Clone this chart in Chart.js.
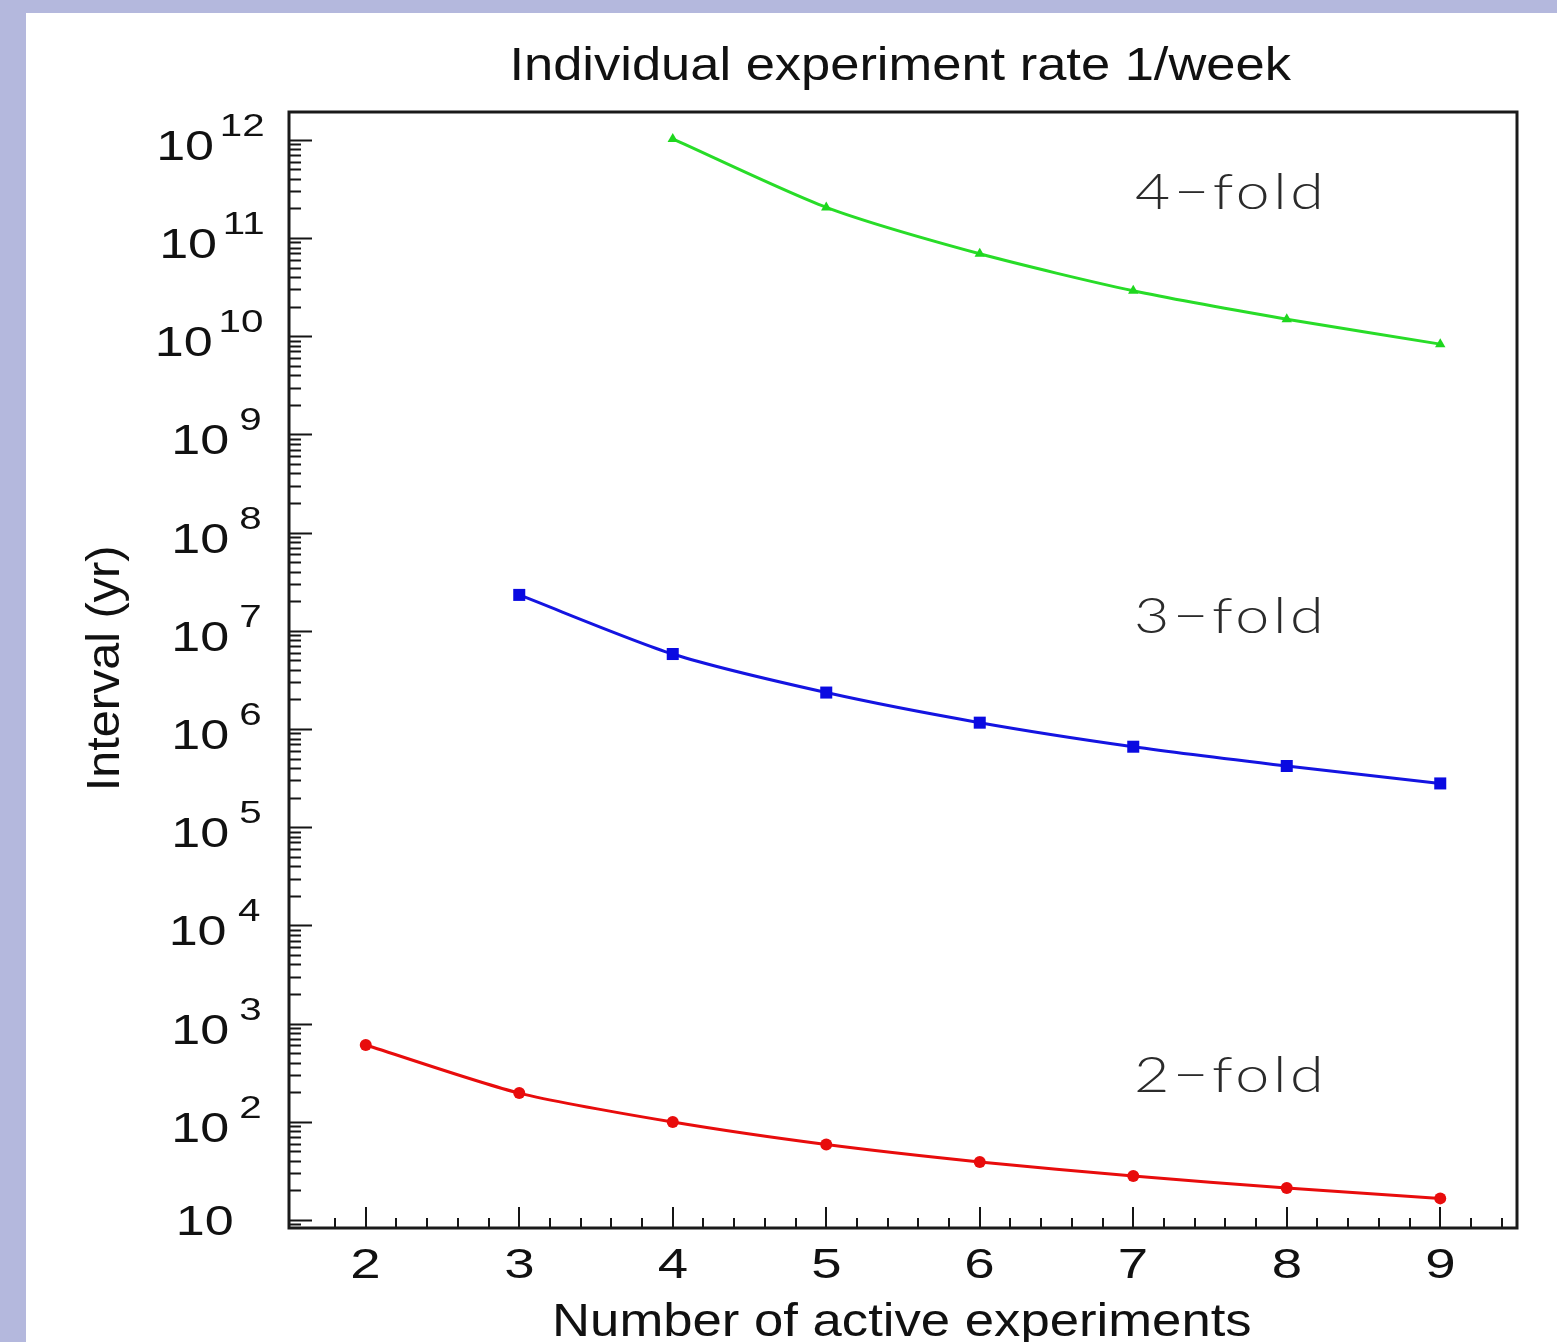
<!DOCTYPE html>
<html>
<head>
<meta charset="utf-8">
<script src="https://cdn.jsdelivr.net/npm/chart.js@4.4.1/dist/chart.umd.min.js"></script>
<style>
html,body{margin:0;padding:0;background:#b4b8dd;overflow:hidden}
canvas{display:block}
</style>
</head>
<body>
<canvas id="c" width="1557" height="1342"></canvas>
<script>
// ---------------- data ----------------
const chartTitle = 'Individual experiment rate 1/week';
const xAxisTitle = 'Number of active experiments';
const yAxisTitle = 'Interval (yr)';
const xTickValues = [2, 3, 4, 5, 6, 7, 8, 9];
const yTickExponents = [1, 2, 3, 4, 5, 6, 7, 8, 9, 10, 11, 12];
const seriesLabels = ['2\u2212fold', '3\u2212fold', '4\u2212fold'];

const twoFoldX = [2, 3, 4, 5, 6, 7, 8, 9];
const twoFoldY = [606, 196, 99.5, 58.7, 39, 28, 21.2, 16.6];
const threeFoldX = [3, 4, 5, 6, 7, 8, 9];
const threeFoldY = [2.32e7, 5.8e6, 2.35e6, 1.16e6, 6.6e5, 4.2e5, 2.79e5];
const fourFoldX = [4, 5, 6, 7, 8, 9];
const fourFoldY = [1.02e12, 2.05e11, 6.9e10, 2.9e10, 1.49e10, 8.3e9];

// ---------------- styling / layout ----------------
const X_MIN = 1.5, X_MAX = 9.5;
const Y_MIN = Math.pow(10, 0.9185), Y_MAX = Math.pow(10, 12.283);
const FONT = '"Liberation Sans", Arial, sans-serif';
const labelAnchors = [   // where the n-fold labels sit (data space)
  { x: 7.02, logY: 2.30 },
  { x: 7.02, logY: 6.98 },
  { x: 7.02, logY: 11.30 }
];

function pts(xs, ys) { return xs.map((x, i) => ({ x: x, y: ys[i] })); }

function glyphText(ctx, text, o) {
  ctx.save();
  ctx.font = o.font;
  ctx.fillStyle = o.color || '#111';
  ctx.textAlign = 'left';
  ctx.textBaseline = 'alphabetic';
  if (o.letterSpacing) ctx.letterSpacing = o.letterSpacing;
  const m = ctx.measureText(text);
  const bw = m.actualBoundingBoxLeft + m.actualBoundingBoxRight;
  const sx = o.width ? o.width / bw : (o.sx || 1);
  const w = bw * sx;
  let L;
  if (o.left !== undefined) L = o.left;
  else if (o.right !== undefined) L = o.right - w;
  else L = o.center - w / 2;
  ctx.translate(L, o.y);
  ctx.scale(sx, 1);
  ctx.fillText(text, m.actualBoundingBoxLeft, 0);
  ctx.restore();
  return { left: L, width: w };
}

const decor = {
  id: 'decor',
  beforeDraw(chart) {
    const ctx = chart.ctx;
    ctx.save();
    ctx.fillStyle = '#b4b8dd';
    ctx.fillRect(0, 0, chart.width, chart.height);
    ctx.fillStyle = '#ffffff';
    ctx.fillRect(26, 13, chart.width - 26, chart.height - 13);
    ctx.restore();
  },
  afterDatasetsDraw(chart) {
    const ctx = chart.ctx;
    const a = chart.chartArea;
    const xs = chart.scales.x, ys = chart.scales.y;
    ctx.save();
    // ticks (inward)
    ctx.strokeStyle = '#151515';
    ctx.lineWidth = 2;
    ctx.beginPath();
    for (let e = 0; e <= 12; e++) {
      for (let m = 1; m <= 9; m++) {
        const v = m * Math.pow(10, e);
        if (v < Y_MIN || v > Y_MAX) continue;
        const py = Math.round(ys.getPixelForValue(v)) + 0.5;
        const len = m === 1 ? 23 : 12;
        ctx.moveTo(a.left, py); ctx.lineTo(a.left + len, py);
      }
    }
    for (let k = Math.round(X_MIN * 5) + 1; k < Math.round(X_MAX * 5); k++) {
      const v = k / 5;
      const px = Math.round(xs.getPixelForValue(v));
      const len = (k % 5 === 0) ? 21 : 10;
      ctx.moveTo(px, a.bottom); ctx.lineTo(px, a.bottom - len);
    }
    ctx.stroke();
    // frame
    ctx.lineWidth = 3;
    ctx.strokeStyle = '#1a1a1a';
    ctx.strokeRect(a.left, a.top, a.right - a.left, a.bottom - a.top);
    ctx.restore();

    // y tick labels 10^n
    yTickExponents.forEach(e => {
      const py = ys.getPixelForValue(Math.pow(10, e));
      if (e === 1) {
        glyphText(ctx, '10', { font: '42px ' + FONT, sx: 1.24, right: 232, y: py + 15 });
      } else {
        const two = e >= 10;
        const ex = glyphText(ctx, String(e), { font: '31px ' + FONT, sx: 1.3, right: two ? 263 : 260, y: py - 4 });
        glyphText(ctx, '10', { font: '42px ' + FONT, sx: 1.24, right: ex.left - (two ? 10 : 13), y: py + 20 });
      }
    });
    // x tick labels
    xTickValues.forEach(v => {
      glyphText(ctx, String(v), { font: '42px ' + FONT, sx: 1.3, center: xs.getPixelForValue(v), y: a.bottom + 50 });
    });
    // title and axis titles
    glyphText(ctx, chartTitle, { font: '46px ' + FONT, width: 778, center: (a.left + a.right) / 2, y: 80 });
    glyphText(ctx, xAxisTitle, { font: '46px ' + FONT, width: 695, center: (a.left + a.right) / 2, y: 1336 });
    ctx.save();
    ctx.translate(119, 787);
    ctx.rotate(-Math.PI / 2);
    glyphText(ctx, yAxisTitle, { font: '46px ' + FONT, width: 239, left: 0, y: 0 });
    ctx.restore();
    // n-fold labels
    seriesLabels.forEach((t, i) => {
      const an = labelAnchors[i];
      glyphText(ctx, t, {
        font: '300 50px Lato, "DejaVu Sans", sans-serif', color: '#2b2b2b', letterSpacing: '3px',
        width: 183, left: xs.getPixelForValue(an.x), y: ys.getPixelForValue(Math.pow(10, an.logY))
      });
    });
  }
};

const ctx = document.getElementById('c').getContext('2d');
new Chart(ctx, {
  type: 'line',
  data: {
    datasets: [
      {
        label: seriesLabels[0], data: pts(twoFoldX, twoFoldY),
        borderColor: 'rgb(232,12,12)', backgroundColor: 'rgb(232,12,12)',
        borderWidth: 3, pointStyle: 'circle', pointRadius: 6, pointBorderWidth: 0, tension: 0.25
      },
      {
        label: seriesLabels[1], data: pts(threeFoldX, threeFoldY),
        borderColor: 'rgb(20,20,225)', backgroundColor: 'rgb(10,10,225)',
        borderWidth: 3, pointStyle: 'rect', pointRadius: 8.5, pointBorderWidth: 0, tension: 0.25
      },
      {
        label: seriesLabels[2], data: pts(fourFoldX, fourFoldY),
        borderColor: 'rgb(40,220,40)', backgroundColor: 'rgb(30,215,30)',
        borderWidth: 3, pointStyle: 'triangle', pointRadius: 6, pointBorderWidth: 0, tension: 0.25
      }
    ]
  },
  options: {
    responsive: false,
    animation: false,
    devicePixelRatio: 1,
    layout: { padding: { left: 289, top: 112, right: 40, bottom: 114 } },
    plugins: { legend: { display: false }, title: { display: false }, tooltip: { enabled: false } },
    scales: {
      x: {
        type: 'linear', min: X_MIN, max: X_MAX,
        grid: { display: false, drawTicks: false }, border: { display: false },
        ticks: { display: false },
        afterBuildTicks: s => { s.ticks = xTickValues.map(v => ({ value: v })); }
      },
      y: {
        type: 'logarithmic', min: Y_MIN, max: Y_MAX,
        grid: { display: false, drawTicks: false }, border: { display: false },
        ticks: { display: false },
        afterBuildTicks: s => { s.ticks = yTickExponents.map(e => ({ value: Math.pow(10, e) })); }
      }
    }
  },
  plugins: [decor]
});
</script>
</body>
</html>
